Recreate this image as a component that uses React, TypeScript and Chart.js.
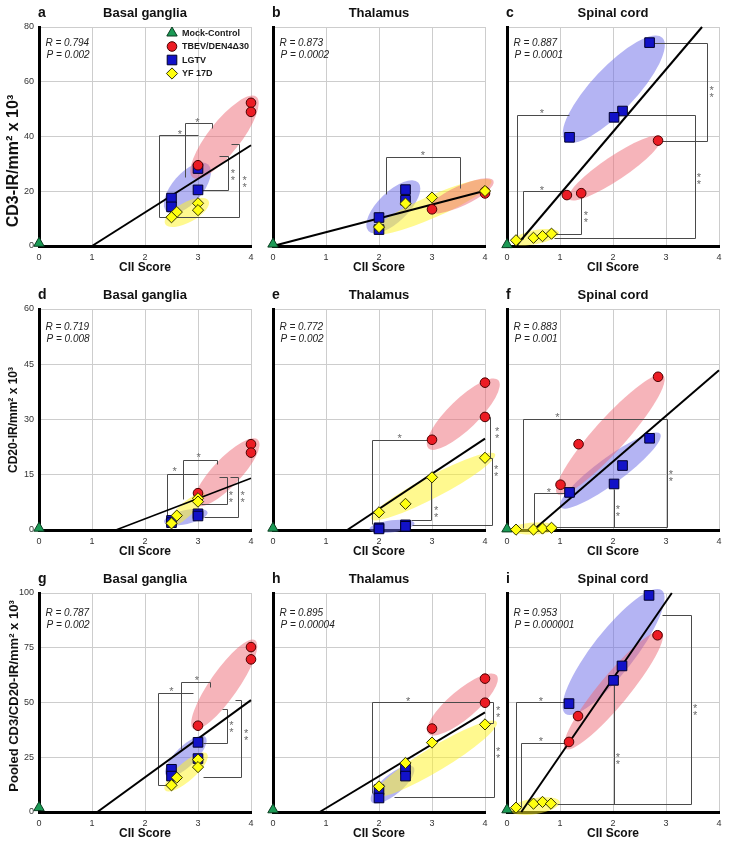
import React, { useEffect, useRef } from 'react';
import { Chart, registerables } from 'chart.js';

Chart.register(...registerables);

type P = [number, number];

// ---------------- labels / categories ----------------
const groupNames = ['Mock-Control', 'TBEV/DEN4Δ30', 'LGTV', 'YF 17D'];
const xMin = 0;
const xMax = 4;
const yMaxByRow = [80, 60, 100];
const yStepByRow = [20, 15, 25];
const yTitles = ['CD3-IR/mm² x 10³', 'CD20-IR/mm² x 10³', 'Pooled CD3/CD20-IR/mm² x 10³'];
const regionTitles = ['Basal ganglia', 'Thalamus', 'Spinal cord'];
const xTitle = 'CII Score';
const letters = ['a', 'b', 'c', 'd', 'e', 'f', 'g', 'h', 'i'];
const rValues = ['0.794', '0.873', '0.887', '0.719', '0.772', '0.883', '0.787', '0.895', '0.953'];
const pValues = ['0.002', '0.0002', '0.0001', '0.008', '0.002', '0.001', '0.002', '0.00004', '0.000001'];

// ---------------- data: [CII score, value] ----------------
// a: Basal ganglia CD3
const mockA: P[] = [[0, 1]];
const tbevA: P[] = [[4, 52.3], [4, 49], [3, 29.5]];
const lgtvA: P[] = [[3, 28.3], [3, 20.5], [2.5, 17.5], [2.5, 14.3]];
const yfA: P[] = [[3, 15.6], [3, 13.1], [2.6, 12.4], [2.5, 10.5]];
const fitA: P[] = [[1, 0], [4, 36.8]];
// b: Thalamus CD3
const mockB: P[] = [[0, 0.7]];
const tbevB: P[] = [[4, 19.9], [4, 19.2], [3, 13.4]];
const lgtvB: P[] = [[2.5, 20.6], [2.5, 16.7], [2, 10.4], [2, 6.0]];
const yfB: P[] = [[4, 20.1], [3, 17.7], [2.5, 15.5], [2, 6.9]];
const fitB: P[] = [[0, 0], [4, 20.2]];
// c: Spinal cord CD3
const mockC: P[] = [[0, 0.5]];
const tbevC: P[] = [[2.85, 38.5], [1.4, 19.3], [1.13, 18.6]];
const lgtvC: P[] = [[2.69, 74.3], [2.18, 49.3], [2.02, 47.0], [1.18, 39.7]];
const yfC: P[] = [[0.17, 2.1], [0.5, 3.0], [0.67, 3.6], [0.84, 4.5]];
const fitC: P[] = [[0.17, 0], [3.68, 80]];
// d: Basal ganglia CD20
const mockD: P[] = [[0, 0.5]];
const tbevD: P[] = [[4, 23.3], [4, 21.0], [3, 10.0]];
const lgtvD: P[] = [[3, 4.4], [3, 3.8], [2.5, 2.6], [2.5, 2.0]];
const yfD: P[] = [[3, 8.6], [3, 7.7], [2.6, 3.9], [2.5, 1.8]];
const fitD: P[] = [[1.45, 0], [4, 14.05]];
// e: Thalamus CD20
const mockE: P[] = [[0, 0.5]];
const tbevE: P[] = [[4, 40.0], [4, 30.7], [3, 24.5]];
const lgtvE: P[] = [[2, 0.6], [2, 0.3], [2.5, 1.4], [2.5, 1.0]];
const yfE: P[] = [[4, 19.6], [3, 14.3], [2.5, 7.1], [2, 4.8]];
const fitE: P[] = [[1.4, 0], [4, 24.8]];
// f: Spinal cord CD20
const mockF: P[] = [[0, 0.3]];
const tbevF: P[] = [[2.85, 41.6], [1.35, 23.3], [1.01, 12.3]];
const lgtvF: P[] = [[2.69, 24.9], [2.18, 17.5], [2.02, 12.5], [1.18, 10.2]];
const yfF: P[] = [[0.17, 0.1], [0.5, 0.1], [0.67, 0.4], [0.84, 0.6]];
const fitF: P[] = [[0.5, 0], [4, 43.4]];
// g: Basal ganglia pooled
const mockG: P[] = [[0, 2]];
const tbevG: P[] = [[4, 75.3], [4, 69.7], [3, 39.4]];
const lgtvG: P[] = [[3, 31.8], [3, 24.4], [2.5, 19.5], [2.5, 16.4]];
const yfG: P[] = [[3, 23.9], [3, 20.5], [2.6, 15.7], [2.5, 12.2]];
const fitG: P[] = [[1.1, 0], [4, 51.1]];
// h: Thalamus pooled
const mockH: P[] = [[0, 1]];
const tbevH: P[] = [[4, 60.9], [4, 49.9], [3, 38.1]];
const lgtvH: P[] = [[2.5, 19.5], [2.5, 16.4], [2, 10.2], [2, 6.4]];
const yfH: P[] = [[4, 40.0], [3, 31.7], [2.5, 22.4], [2, 11.7]];
const fitH: P[] = [[0.88, 0], [4, 45.5]];
// i: Spinal cord pooled
const mockI: P[] = [[0, 1]];
const tbevI: P[] = [[2.84, 80.7], [1.34, 43.8], [1.17, 32.0]];
const lgtvI: P[] = [[2.68, 98.9], [2.17, 66.7], [2.01, 60.1], [1.17, 49.5]];
const yfI: P[] = [[0.17, 2.0], [0.5, 3.8], [0.67, 4.6], [0.83, 3.8]];
const fitI: P[] = [[0.27, 0], [3.11, 100]];

// ---------------- group ellipses: major-axis ends in data units ----------------
type Ell = { a: P; b: P };
const ellTbev: Ell[] = [
  { a: [2.9, 25], b: [4.1, 54.5] },
  { a: [2.93, 12.8], b: [4.16, 23.8] },
  { a: [1.17, 17.2], b: [2.9, 39.7] },
  { a: [2.96, 6.8], b: [4.13, 24.5] },
  { a: [2.93, 22.2], b: [4.25, 40.7] },
  { a: [0.95, 9.8], b: [2.95, 41.9] },
  { a: [2.91, 38], b: [4.08, 78.4] },
  { a: [2.93, 35.8], b: [4.22, 62.4] },
  { a: [1.1, 28.9], b: [2.92, 82.2] },
];
const ellLgtv: Ell[] = [
  { a: [2.41, 12.5], b: [3.19, 29.8] },
  { a: [1.8, 5.5], b: [2.74, 23.2] },
  { a: [1.1, 38.5], b: [2.93, 76.1] },
  { a: [2.36, 2.2], b: [3.18, 4.8] },
  { a: [1.82, 0.2], b: [2.67, 1.8] },
  { a: [1.01, 6.2], b: [2.89, 26.1] },
  { a: [2.4, 16.7], b: [3.14, 34.2] },
  { a: [1.86, 4.6], b: [2.65, 20.5] },
  { a: [1.1, 44.9], b: [2.92, 101.2] },
];
const ellYf: Ell[] = [
  { a: [2.38, 8.0], b: [3.2, 16.5] },
  { a: [1.89, 4.9], b: [4.12, 23.8] },
  { a: [0.09, 1.5], b: [0.98, 4.9] },
  { a: [2.42, 0.9], b: [3.12, 10.0] },
  { a: [1.85, 3.0], b: [4.19, 20.6] },
  { a: [0.08, 0.1], b: [0.95, 0.7] },
  { a: [2.38, 9.9], b: [3.17, 26.6] },
  { a: [1.92, 7.6], b: [4.22, 41.1] },
  { a: [0.06, 0.8], b: [1.0, 4.6] },
];
// half minor-axis widths (px) per panel: [tbev, lgtv, yf]
const ellWidth = [
  [16, 15, 10], [10, 15, 11], [12, 22, 7],
  [14, 7, 7], [15, 6, 11], [16, 13, 6],
  [14, 10, 9], [14, 10, 12], [15, 21, 8],
];

// ---------------- significance brackets ----------------
type Br = { path: P[]; one?: P; two?: P };
const brA: Br[] = [
  { path: [[3.0, 40.5], [2.26, 40.5], [2.26, 10.7], [3.77, 10.7]], one: [2.66, 41.8] },
  { path: [[3.62, 37.3], [3.77, 37.3], [3.77, 10.7]], two: [3.88, 24] },
  { path: [[2.75, 25.3], [2.75, 44.8], [3.26, 44.8], [3.26, 43]], one: [2.99, 46.3] },
  { path: [[3.4, 32.9], [3.57, 32.9], [3.57, 20.5], [3.07, 20.5]], two: [3.66, 26.5] },
];
const brB: Br[] = [
  { path: [[2.14, 18.9], [2.14, 32.5], [3.53, 32.5], [3.53, 21.3]], one: [2.83, 34.1] },
];
const brC: Br[] = [
  { path: [[1.17, 47.8], [0.18, 47.8], [0.18, 2.1]], one: [0.66, 49.4] },
  { path: [[2.27, 47.8], [3.54, 47.8], [3.54, 2.8], [0.88, 2.8]], two: [3.62, 25] },
  { path: [[2.77, 74.3], [3.78, 74.3], [3.78, 38.5], [2.93, 38.5]], two: [3.86, 56.7] },
  { path: [[1.07, 20], [0.31, 20], [0.31, 2.7]], one: [0.66, 21.5] },
  { path: [[1.4, 17.8], [1.4, 4.3], [0.88, 4.3]], two: [1.49, 11.2] },
];
const brD: Br[] = [
  { path: [[3.0, 15.1], [2.42, 15.1], [2.42, 1.5]], one: [2.56, 16.6] },
  { path: [[3.6, 14.5], [3.76, 14.5], [3.76, 3.4], [3.11, 3.4]], two: [3.84, 9.3] },
  { path: [[2.72, 8.5], [2.72, 19.0], [3.35, 19.0], [3.35, 18]], one: [3.01, 20.4] },
  { path: [[3.4, 14.5], [3.54, 14.5], [3.54, 7.0], [3.05, 7.0]], two: [3.62, 9.5] },
];
const brE: Br[] = [
  { path: [[2.93, 24.5], [1.86, 24.5], [1.86, 1.6]], one: [2.39, 25.6] },
  { path: [[2.99, 14.5], [2.99, 2.7], [2.6, 2.7]], two: [3.08, 5.4] },
  { path: [[4.04, 30.8], [4.1, 30.8], [4.1, 19.5], [4.04, 19.5]], two: [4.23, 26.7] },
  { path: [[4.1, 19.5], [4.14, 19.5], [4.14, 1.4], [2.63, 1.4]], two: [4.21, 16.3] },
];
const brF: Br[] = [
  { path: [[0.31, 0.5], [0.31, 30.1], [3.02, 30.1], [3.02, 0.7], [0.88, 0.7]], one: [0.95, 31.3], two: [3.09, 15] },
  { path: [[1.1, 10.0], [0.51, 10.0], [0.51, 0.3]], one: [0.79, 11.1] },
  { path: [[2.02, 11.1], [2.02, 0.7]], two: [2.09, 5.7] },
];
const brG: Br[] = [
  { path: [[2.91, 54.3], [2.24, 54.3], [2.24, 12.2], [2.54, 12.2]], one: [2.5, 56.3] },
  { path: [[3.7, 51.3], [3.81, 51.3], [3.81, 16.0], [3.1, 16.0]], two: [3.91, 35.8] },
  { path: [[2.68, 28.9], [2.68, 59.4], [3.23, 59.4], [3.23, 57]], one: [2.98, 61.2] },
  { path: [[3.45, 47.2], [3.55, 47.2], [3.55, 31.7], [3.1, 31.7]], two: [3.63, 39.6] },
];
const brH: Br[] = [
  { path: [[1.87, 8.7], [1.87, 50.4], [4.15, 50.4], [4.15, 40.5], [4.05, 40.5]], one: [2.55, 51.8], two: [4.25, 46.5] },
  { path: [[4.17, 39], [4.17, 7.0], [2.28, 7.0]], two: [4.25, 27.5] },
];
const brI: Br[] = [
  { path: [[1.13, 50.2], [0.17, 50.2], [0.17, 2.5]], one: [0.64, 52] },
  { path: [[1.1, 31.5], [0.27, 31.5], [0.27, 2.5]], one: [0.64, 33.5] },
  { path: [[2.92, 89.8], [3.47, 89.8], [3.47, 3.5], [0.94, 3.5]], two: [3.55, 47.2] },
  { path: [[2.02, 58], [2.02, 3.5]], two: [2.09, 25] },
];

const mockAll = [mockA, mockB, mockC, mockD, mockE, mockF, mockG, mockH, mockI];
const tbevAll = [tbevA, tbevB, tbevC, tbevD, tbevE, tbevF, tbevG, tbevH, tbevI];
const lgtvAll = [lgtvA, lgtvB, lgtvC, lgtvD, lgtvE, lgtvF, lgtvG, lgtvH, lgtvI];
const yfAll = [yfA, yfB, yfC, yfD, yfE, yfF, yfG, yfH, yfI];
const fitAll = [fitA, fitB, fitC, fitD, fitE, fitF, fitG, fitH, fitI];
const brAll = [brA, brB, brC, brD, brE, brF, brG, brH, brI];

// ---------------- layout & style ----------------
const COLS = [
  { cl: 0, cr: 262, pl: 39, pr: 251 },
  { cl: 258, cr: 506, pl: 273, pr: 485 },
  { cl: 495, cr: 729, pl: 507, pr: 719 },
];
const ROWS = [
  { ct: 0, cb: 276, pt: 27, pb: 246, rOff: 16, yMid: 161, yFont: 16 },
  { ct: 276, cb: 561, pt: 309, pb: 530, rOff: 18, yMid: 420, yFont: 12 },
  { ct: 561, cb: 847, pt: 593, pb: 812, rOff: 20, yMid: 696, yFont: 13 },
];
const FONT = '"Liberation Sans", Arial, Helvetica, sans-serif';
const STYLE = {
  mock: { bg: '#1b9a55', border: '#0a3d20', style: 'triangle', r: 6 },
  tbev: { bg: '#ec1c24', border: '#4a0000', style: 'circle', r: 4.8 },
  lgtv: { bg: '#1212c8', border: '#00002a', style: 'rect', r: 6.8 },
  yf: { bg: '#ffff10', border: '#333300', style: 'rectRot', r: 5.6 },
};
const ELL_COL = {
  tbev: 'rgba(238, 105, 118, 0.5)',
  lgtv: 'rgba(105, 105, 232, 0.5)',
  yf: 'rgba(255, 243, 40, 0.52)',
};

const toXY = (a: P[]) => a.map(([x, y]) => ({ x, y }));

function drawMarker(ctx: CanvasRenderingContext2D, kind: keyof typeof STYLE, x: number, y: number) {
  const s = STYLE[kind];
  const r = s.r;
  ctx.beginPath();
  if (s.style === 'circle') ctx.arc(x, y, r, 0, Math.PI * 2);
  else if (s.style === 'rect') {
    const h = r * Math.SQRT1_2;
    ctx.rect(x - h, y - h, 2 * h, 2 * h);
  } else if (s.style === 'rectRot') {
    ctx.moveTo(x - r, y); ctx.lineTo(x, y - r); ctx.lineTo(x + r, y); ctx.lineTo(x, y + r); ctx.closePath();
  } else {
    for (let k = 0; k < 3; k++) {
      const a = (k * 2 * Math.PI) / 3;
      const px = x + Math.sin(a) * r, py = y - Math.cos(a) * r;
      if (k === 0) ctx.moveTo(px, py); else ctx.lineTo(px, py);
    }
    ctx.closePath();
  }
  ctx.fillStyle = s.bg;
  ctx.fill();
  ctx.lineWidth = 1;
  ctx.strokeStyle = s.border;
  ctx.stroke();
}

function makeConfig(idx: number): any {
  const row = Math.floor(idx / 3), col = idx % 3;
  const C = COLS[col], R = ROWS[row];
  const ds = (kind: keyof typeof STYLE, data: P[], order: number) => ({
    label: kind,
    data: toXY(data),
    pointStyle: STYLE[kind].style,
    pointRadius: STYLE[kind].r,
    backgroundColor: STYLE[kind].bg,
    borderColor: STYLE[kind].border,
    borderWidth: 1,
    showLine: false,
    clip: false,
    order,
  });

  const overlay = {
    id: 'overlay',
    beforeDatasetsDraw(chart: any) {
      const ctx: CanvasRenderingContext2D = chart.ctx;
      const xs = chart.scales.x, ys = chart.scales.y;
      const px = (v: number) => xs.getPixelForValue(v);
      const py = (v: number) => ys.getPixelForValue(v);
      ctx.save();
      const ells: [Ell, string, number][] = [
        [ellLgtv[idx], ELL_COL.lgtv, ellWidth[idx][1]],
        [ellYf[idx], ELL_COL.yf, ellWidth[idx][2]],
        [ellTbev[idx], ELL_COL.tbev, ellWidth[idx][0]],
      ];
      for (const [e, color, w] of ells) {
        const ax = px(e.a[0]), ay = py(e.a[1]), bx = px(e.b[0]), by = py(e.b[1]);
        const len = Math.hypot(bx - ax, by - ay) / 2;
        ctx.beginPath();
        ctx.ellipse((ax + bx) / 2, (ay + by) / 2, len, w, Math.atan2(by - ay, bx - ax), 0, Math.PI * 2);
        ctx.fillStyle = color;
        ctx.fill();
      }
      ctx.strokeStyle = '#4a4a4a';
      ctx.lineWidth = 1;
      ctx.fillStyle = '#6a6a6a';
      ctx.font = `11px ${FONT}`;
      ctx.textAlign = 'center';
      ctx.textBaseline = 'alphabetic';
      for (const b of brAll[idx]) {
        ctx.beginPath();
        b.path.forEach(([vx, vy], i) => {
          const X = Math.round(px(vx)) + 0.5, Y = Math.round(py(vy)) + 0.5;
          if (i === 0) ctx.moveTo(X, Y); else ctx.lineTo(X, Y);
        });
        ctx.stroke();
        if (b.one) ctx.fillText('*', px(b.one[0]), py(b.one[1]) + 6.5);
        if (b.two) {
          const X = px(b.two[0]), Y = py(b.two[1]);
          ctx.fillText('*', X, Y - 3 + 6.5);
          ctx.fillText('*', X, Y + 4 + 6.5);
        }
      }
      ctx.restore();
    },
    afterDraw(chart: any) {
      const ctx: CanvasRenderingContext2D = chart.ctx;
      const { left, right, top, bottom } = chart.chartArea;
      ctx.save();
      ctx.textBaseline = 'middle';
      ctx.fillStyle = '#111';
      ctx.font = `bold 14px ${FONT}`;
      ctx.textAlign = 'left';
      ctx.fillText(letters[idx], left - 1, top - 13.5);
      ctx.font = `bold 13px ${FONT}`;
      ctx.textAlign = 'center';
      ctx.fillText(regionTitles[col], (left + right) / 2, top - 13.5);
      ctx.font = `bold 12px ${FONT}`;
      ctx.fillText(xTitle, (left + right) / 2, bottom + 22);
      ctx.fillStyle = '#222';
      ctx.font = `italic 10px ${FONT}`;
      ctx.textAlign = 'left';
      ctx.fillText(`R = ${rValues[idx]}`, left + 6.5, top + R.rOff);
      ctx.fillText(`P = ${pValues[idx]}`, left + 7.5, top + R.rOff + 12);
      if (col === 0) {
        ctx.save();
        ctx.fillStyle = '#111';
        ctx.font = `bold ${R.yFont}px ${FONT}`;
        ctx.textAlign = 'center';
        ctx.translate(14 - C.cl, R.yMid - R.ct);
        ctx.rotate(-Math.PI / 2);
        ctx.fillText(yTitles[row], 0, 0);
        ctx.restore();
      }
      if (idx === 0) {
        const kinds: (keyof typeof STYLE)[] = ['mock', 'tbev', 'lgtv', 'yf'];
        kinds.forEach((k, i) => {
          const y = top + 6 + i * 13.5;
          drawMarker(ctx, k, left + 133, y);
          ctx.fillStyle = '#1a1a1a';
          ctx.font = `bold 9px ${FONT}`;
          ctx.textAlign = 'left';
          ctx.textBaseline = 'middle';
          ctx.fillText(groupNames[i], left + 143, y + 0.5);
        });
      }
      ctx.restore();
    },
  };

  return {
    type: 'scatter',
    data: {
      datasets: [
        ds('yf', yfAll[idx], 0),
        ds('tbev', tbevAll[idx], 1),
        ds('lgtv', lgtvAll[idx], 2),
        ds('mock', mockAll[idx], 3),
        {
          label: 'fit',
          data: toXY(fitAll[idx]),
          showLine: true,
          pointRadius: 0,
          borderColor: '#000',
          borderWidth: idx === 3 ? 1.5 : 2,
          backgroundColor: '#000',
          clip: false,
          order: 10,
        },
      ],
    },
    options: {
      responsive: false,
      animation: false,
      events: [],
      layout: { padding: { left: 0, top: R.pt - R.ct, right: C.cr - C.pr, bottom: 0 } },
      plugins: { legend: { display: false }, tooltip: { enabled: false }, title: { display: false } },
      scales: {
        x: {
          type: 'linear',
          min: xMin,
          max: xMax,
          ticks: { stepSize: 1, color: '#333', font: { family: FONT, size: 9 }, padding: 6 },
          grid: { color: '#cdcdcd', lineWidth: 1, drawTicks: false },
          border: { color: '#000', width: 3 },
          afterFit: (s: any) => { s.height = R.cb - R.pb; },
        },
        y: {
          type: 'linear',
          min: 0,
          max: yMaxByRow[row],
          ticks: { stepSize: yStepByRow[row], display: col === 0, color: '#333', font: { family: FONT, size: 9 }, padding: 5 },
          grid: { color: '#cdcdcd', lineWidth: 1, drawTicks: false },
          border: { color: '#000', width: 3 },
          afterFit: (s: any) => { s.width = C.pl - C.cl; },
        },
      },
    },
    plugins: [overlay],
  };
}

function Panel({ idx }: { idx: number }) {
  const ref = useRef<HTMLCanvasElement>(null);
  const row = Math.floor(idx / 3), col = idx % 3;
  const C = COLS[col], R = ROWS[row];
  const w = C.cr - C.cl, h = R.cb - R.ct;
  useEffect(() => {
    const chart = new Chart(ref.current as HTMLCanvasElement, makeConfig(idx));
    return () => chart.destroy();
  }, [idx]);
  return (
    <canvas
      ref={ref}
      width={w}
      height={h}
      style={{ position: 'absolute', left: C.cl, top: R.ct, width: w, height: h }}
    />
  );
}

export default function App() {
  return (
    <div style={{ position: 'absolute', left: 0, top: 0, width: 729, height: 847, background: '#fff' }}>
      {letters.map((_, i) => (
        <Panel key={i} idx={i} />
      ))}
    </div>
  );
}
